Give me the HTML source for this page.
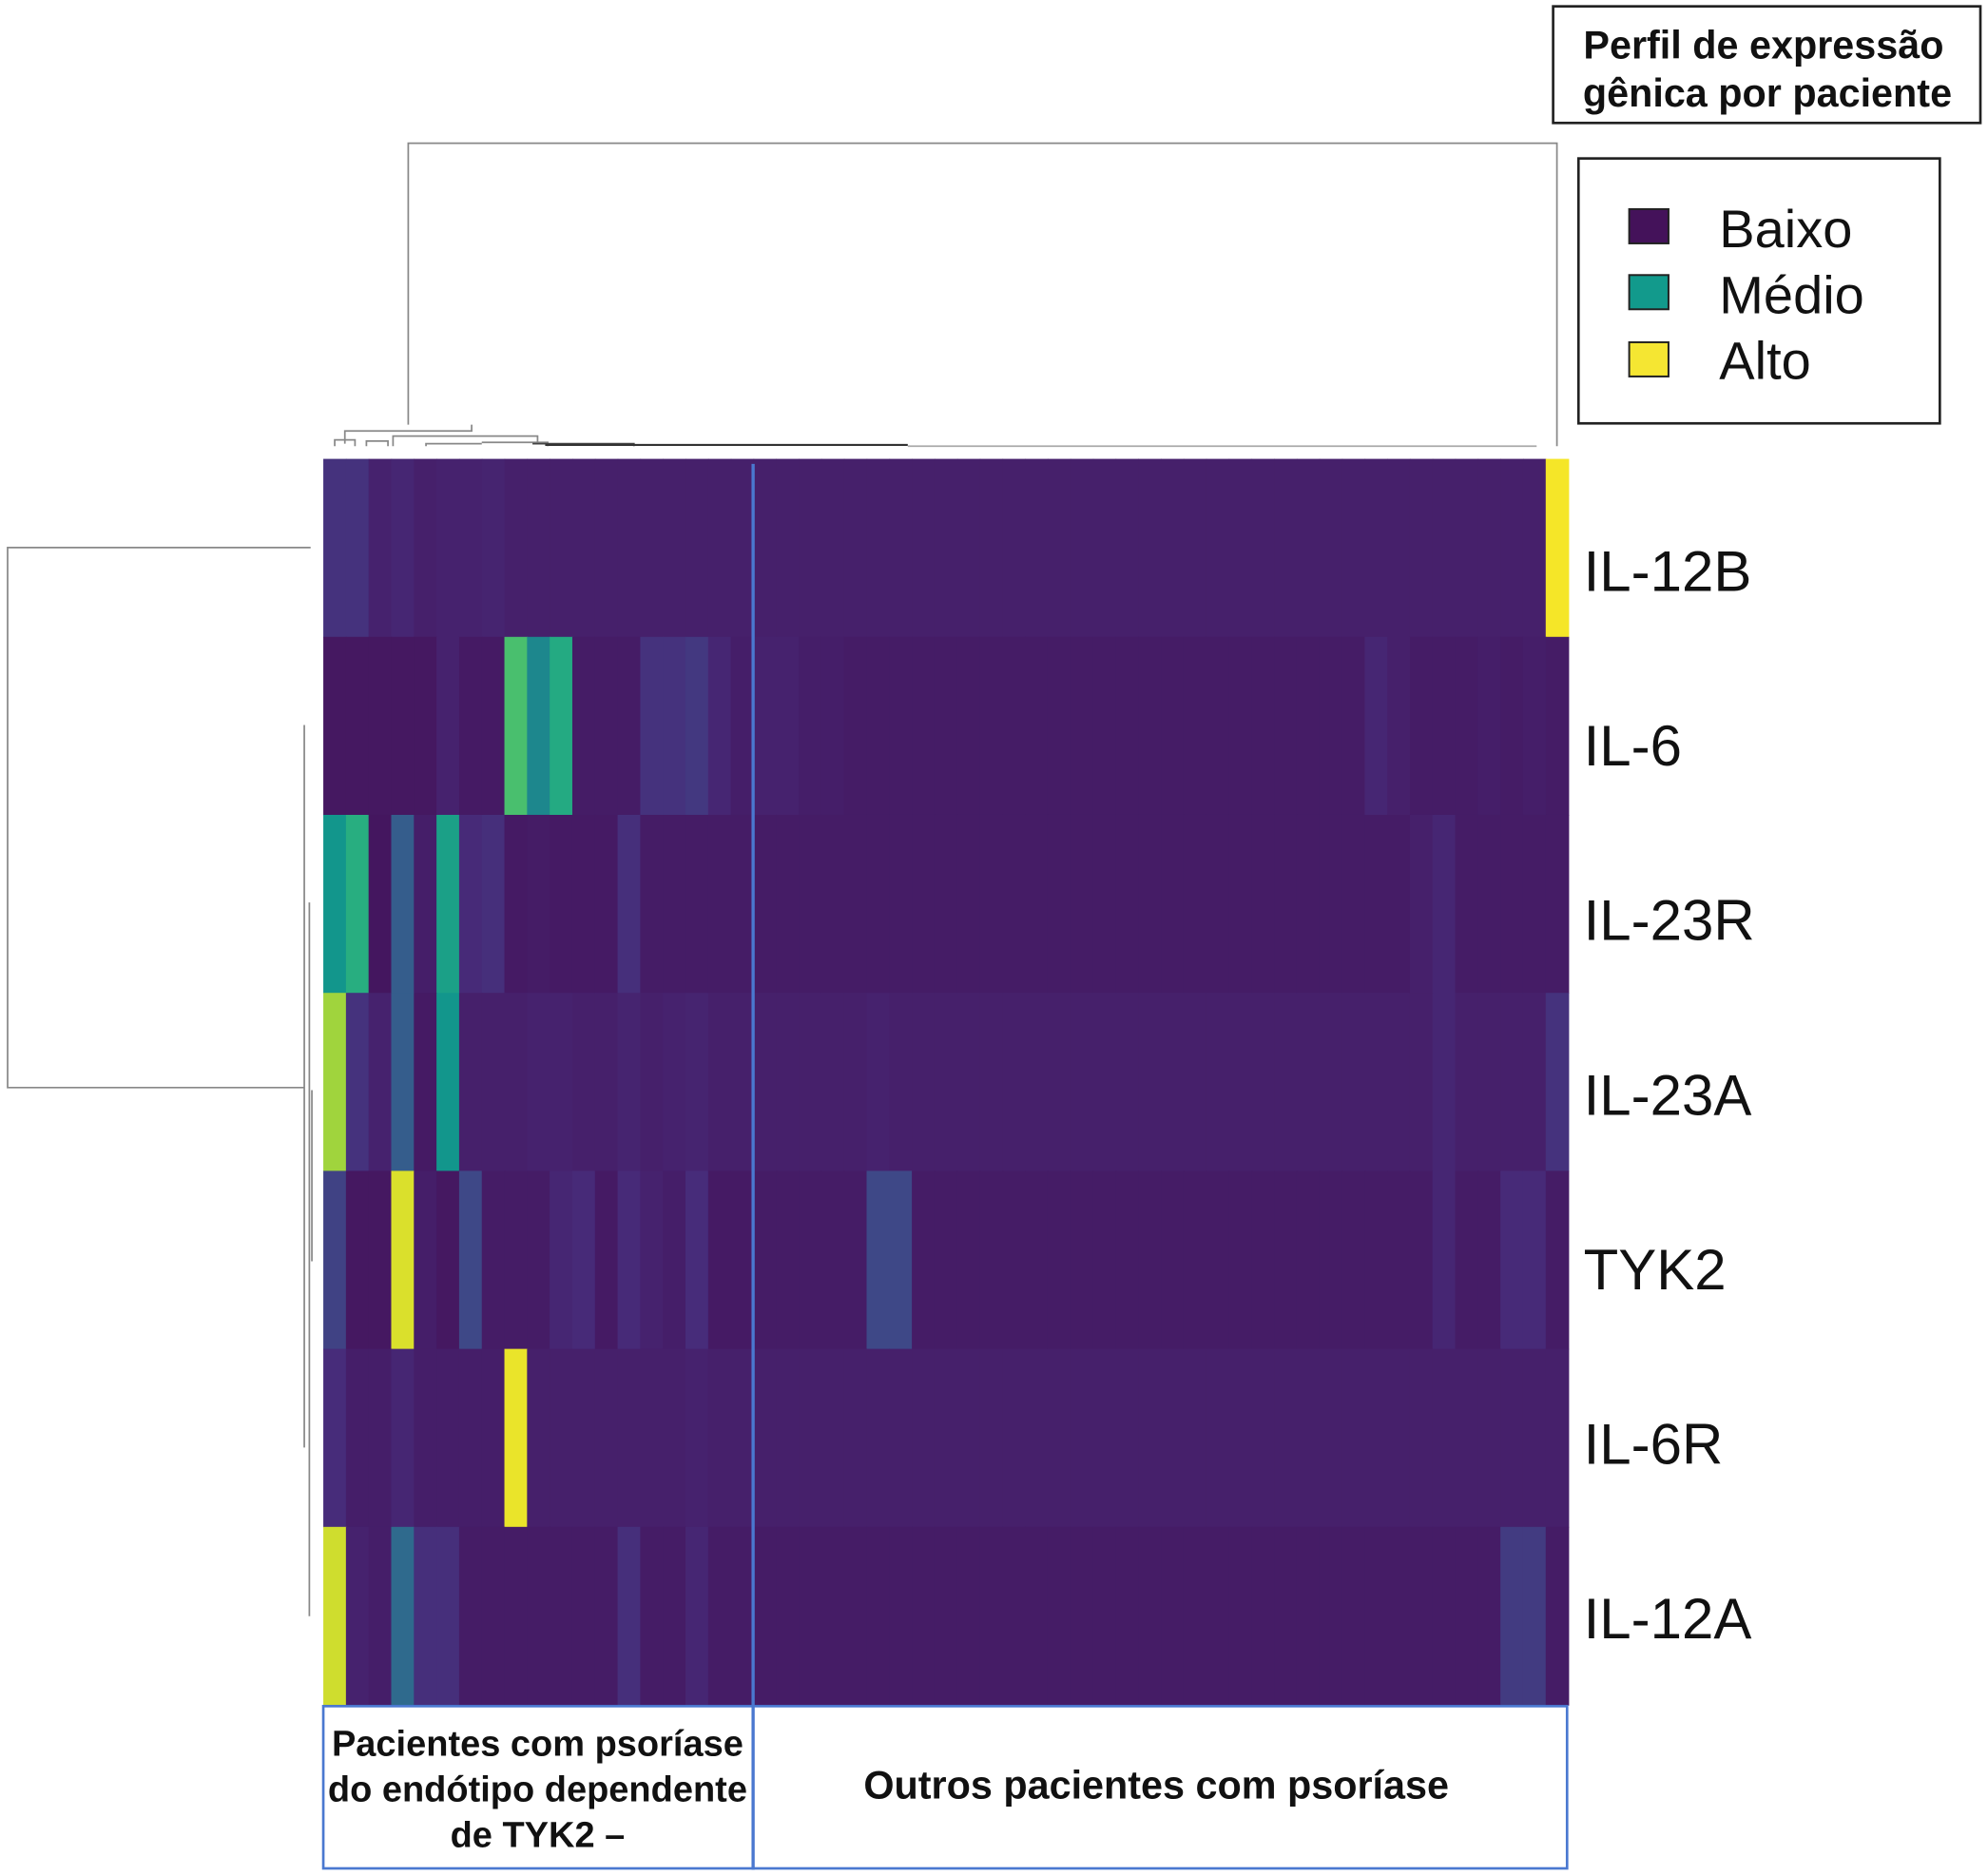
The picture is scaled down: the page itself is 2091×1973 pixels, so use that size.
<!DOCTYPE html>
<html><head><meta charset="utf-8"><style>
html,body{margin:0;padding:0;background:#fff;}
svg{display:block;}
text{font-family:"Liberation Sans",sans-serif;}
</style></head><body>
<svg id="chart" width="2091" height="1973" viewBox="0 0 1568 1480" preserveAspectRatio="none" xmlns="http://www.w3.org/2000/svg">
<g id="dendro-top" fill="none" stroke="#888" stroke-width="1.3">
<path d="M322 335 V113 H1228 V352"/>
<path d="M272 350 V340 H372 V335"/>
<path d="M264 352 V347 H280 V352"/>
<path d="M289 352 V348 H306 V352"/>
<path d="M310 352 V344 H424 V350"/>
<path d="M336 352 V350 H380 M380 349 H432 V352"/>
<path d="M420 350 H500 V352" stroke="#444"/>
<path d="M430 351 H716" stroke="#333" stroke-width="1.6"/>
<path d="M716 352 H1212" stroke="#aaa"/>
</g>
<g id="dendro-left" fill="none" stroke="#888" stroke-width="1.3">
<path d="M245 432 H6 V858 H240"/>
<path d="M240 572 V1142"/>
<path d="M244 712 V1275"/>
<path d="M246 860 V995"/>
</g>
<g id="heatmap"></g>
<line x1="594" y1="366" x2="594" y2="1475" stroke="#4a78d0" stroke-width="2.5"/>
<g id="row-labels" font-size="45" fill="#111"></g>
<rect x="255" y="1346" width="339" height="128" fill="none" stroke="#4a78d0" stroke-width="2"/>
<rect x="594" y="1346" width="642" height="128" fill="none" stroke="#4a78d0" stroke-width="2"/>
<text font-size="28.5" font-weight="bold" text-anchor="middle" fill="#111"><tspan x="424" y="1385">Pacientes com psoríase</tspan><tspan x="424" y="1421">do endótipo dependente</tspan><tspan x="424" y="1457">de TYK2 –</tspan></text>
<text x="912" y="1419" font-size="31" font-weight="bold" text-anchor="middle" fill="#111">Outros pacientes com psoríase</text>
<rect x="1225" y="5" width="337" height="92" fill="#fff" stroke="#222" stroke-width="2"/>
<text font-size="31" font-weight="bold" text-anchor="middle" fill="#111"><tspan x="1391" y="46">Perfil de expressão</tspan><tspan x="1394" y="84">gênica por paciente</tspan></text>
<g>
<rect x="1245" y="125" width="285" height="209" fill="#fff" stroke="#222" stroke-width="2"/>
<rect x="1285" y="165" width="31" height="27" fill="#44125a" stroke="#222" stroke-width="1.5"/>
<rect x="1285" y="217" width="31" height="27" fill="#129a8c" stroke="#222" stroke-width="1.5"/>
<rect x="1285" y="270" width="31" height="27" fill="#f5e632" stroke="#222" stroke-width="1.5"/>
<text x="1356" y="195" font-size="42" fill="#111">Baixo</text>
<text x="1356" y="247" font-size="42" fill="#111">Médio</text>
<text x="1356" y="299" font-size="42" fill="#111">Alto</text>
</g>
</svg>
<script>
const genes = ["IL-12B","IL-6","IL-23R","IL-23A","TYK2","IL-6R","IL-12A"];
const rowIL12B = [0.15,0.15,0.08,0.1,0.07,0.08,0.08,0.09,0.07,0.07,0.07,0.07,0.07,0.07,0.07,0.07,0.07,0.07,0.07, 0.07,0.07,0.07,0.07,0.07,0.07,0.07,0.07,0.07,0.07,0.07,0.07,0.07,0.07,0.07,0.07,0.07,0.07,0.07,0.07,0.07,0.07,0.07,0.07,0.07,0.07,0.07,0.07,0.07,0.07,0.07,0.07,0.07,0.07,0.07,1.0];
const rowIL6 = [0.03,0.03,0.03,0.03,0.03,0.08,0.04,0.04,0.7,0.45,0.6,0.05,0.05,0.05,0.15,0.15,0.17,0.1,0.06, 0.08,0.08,0.06,0.06,0.05,0.05,0.05,0.05,0.05,0.05,0.05,0.05,0.05,0.05,0.05,0.05,0.05,0.05,0.05,0.05,0.05,0.05,0.05,0.05,0.05,0.05,0.05,0.1,0.07,0.05,0.05,0.05,0.06,0.05,0.06,0.05];
const rowIL23R = [0.5,0.62,0.02,0.3,0.06,0.55,0.12,0.14,0.04,0.05,0.04,0.04,0.04,0.14,0.05,0.05,0.05,0.05,0.05, 0.05,0.05,0.05,0.05,0.05,0.05,0.05,0.05,0.05,0.05,0.05,0.05,0.05,0.05,0.05,0.05,0.05,0.05,0.05,0.05,0.05,0.05,0.05,0.05,0.05,0.05,0.05,0.05,0.05,0.07,0.1,0.05,0.05,0.05,0.05,0.05];
const rowIL23A = [0.85,0.15,0.08,0.3,0.04,0.5,0.07,0.07,0.07,0.08,0.08,0.07,0.07,0.09,0.07,0.08,0.09,0.07,0.07, 0.07,0.07,0.07,0.07,0.07,0.08,0.07,0.07,0.07,0.07,0.07,0.07,0.07,0.07,0.07,0.07,0.07,0.07,0.07,0.07,0.07,0.07,0.07,0.07,0.07,0.07,0.07,0.07,0.07,0.07,0.1,0.07,0.07,0.07,0.07,0.15];
const rowTYK2 = [0.2,0.03,0.03,0.95,0.06,0.03,0.22,0.05,0.05,0.05,0.1,0.12,0.04,0.12,0.08,0.06,0.13,0.04,0.04, 0.05,0.05,0.05,0.05,0.05,0.22,0.22,0.05,0.05,0.05,0.05,0.05,0.05,0.05,0.05,0.05,0.05,0.05,0.05,0.05,0.05,0.05,0.05,0.05,0.05,0.05,0.05,0.05,0.05,0.05,0.1,0.05,0.05,0.12,0.12,0.05];
const rowIL6R = [0.13,0.06,0.06,0.1,0.06,0.06,0.06,0.06,0.98,0.07,0.07,0.07,0.07,0.07,0.07,0.07,0.08,0.07,0.07, 0.07,0.07,0.07,0.07,0.07,0.07,0.07,0.07,0.07,0.07,0.07,0.07,0.07,0.07,0.07,0.07,0.07,0.07,0.07,0.07,0.07,0.07,0.07,0.07,0.07,0.07,0.07,0.07,0.07,0.07,0.07,0.07,0.07,0.07,0.07,0.07];
const rowIL12A = [0.93,0.08,0.06,0.35,0.14,0.14,0.05,0.05,0.05,0.05,0.05,0.05,0.05,0.14,0.05,0.05,0.1,0.05,0.05, 0.05,0.05,0.05,0.05,0.05,0.05,0.05,0.05,0.05,0.05,0.05,0.05,0.05,0.05,0.05,0.05,0.05,0.05,0.05,0.05,0.05,0.05,0.05,0.05,0.05,0.05,0.05,0.05,0.05,0.05,0.05,0.05,0.05,0.18,0.18,0.05];
const matrix = [rowIL12B,rowIL6,rowIL23R,rowIL23A,rowTYK2,rowIL6R,rowIL12A];

const X0=255, X1=1237, Y0=362, Y1=1345;
const nCols = rowIL12B.length;
const cw=(X1-X0)/nCols, rh=(Y1-Y0)/genes.length;
const xPos = c => X0 + c*cw;
const yPos = r => Y0 + r*rh;
const stops=[[0,[68,18,90]],[0.13,[71,44,122]],[0.25,[59,81,139]],[0.38,[44,113,142]],[0.5,[18,150,140]],[0.62,[40,174,128]],[0.75,[94,201,98]],[0.88,[180,215,50]],[1,[245,230,40]]];
function viridis(v){v=Math.max(0,Math.min(1,v));for(let i=1;i<stops.length;i++){if(v<=stops[i][0]){const a=stops[i-1],b=stops[i],t=(v-a[0])/(b[0]-a[0]);const c=a[1].map((x,k)=>Math.round(x+(b[1][k]-x)*t));return `rgb(${c})`;}}return 'rgb(245,230,40)';}
const NS="http://www.w3.org/2000/svg";
const hm=document.getElementById('heatmap');
matrix.forEach((row,r)=>row.forEach((v,c)=>{
  const el=document.createElementNS(NS,'rect');
  el.setAttribute('x',xPos(c));el.setAttribute('y',yPos(r));
  el.setAttribute('width',cw+0.6);el.setAttribute('height',rh+0.6);
  el.setAttribute('fill',viridis(v));
  
  
  hm.appendChild(el);
}));
const rl=document.getElementById('row-labels');
genes.forEach((g,r)=>{
  const t=document.createElementNS(NS,'text');
  t.setAttribute('x',1249);t.setAttribute('y',yPos(r)+rh/2+34-r*2.7);
  t.textContent=g;
  
  
  rl.appendChild(t);
});
</script>
</body></html>
